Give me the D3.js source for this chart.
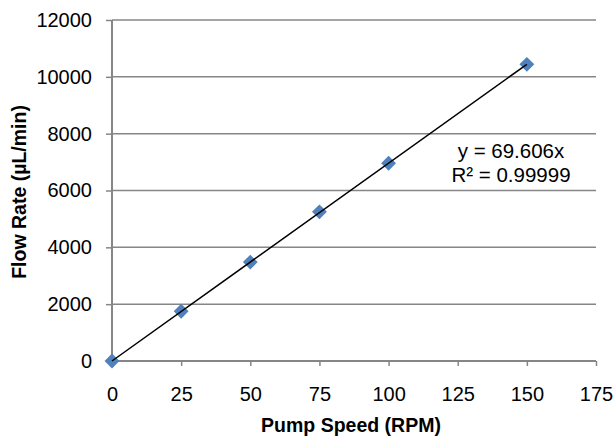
<!DOCTYPE html>
<html><head><meta charset="utf-8">
<script src="https://cdn.jsdelivr.net/npm/d3@7"></script>
<style>
html,body{margin:0;padding:0;background:#fff;}
svg{display:block;font-family:"Liberation Sans",Arial,sans-serif;}
</style></head>
<body>
<svg id="chart" width="615" height="438"></svg>
<script>
const speeds = [0, 25, 50, 75, 100, 150];
const flowRates = [0, 1750, 3480, 5250, 6960, 10440];
const xTicks = [0, 25, 50, 75, 100, 125, 150, 175];
const yTicks = [0, 2000, 4000, 6000, 8000, 10000, 12000];
const slope = 69.606;
const trendLabel = ["y = 69.606x", "R\u00B2 = 0.99999"];
const xTitle = "Pump Speed (RPM)";
const yTitle = "Flow Rate (\u00B5L/min)";

const svg = d3.select("#chart");
const m = {left: 112, right: 596, top: 20, bottom: 361};
const x = d3.scaleLinear().domain([0, 175]).range([m.left, m.right]);
const y = d3.scaleLinear().domain([0, 12000]).range([m.bottom, m.top]);
const gray = "#868686";
const FONT = "Liberation Sans, Arial, sans-serif";

// gridlines
svg.append("g").selectAll("line").data(yTicks.filter(d => d > 0)).join("line")
  .attr("x1", m.left).attr("x2", m.right)
  .attr("y1", d => y(d)).attr("y2", d => y(d))
  .attr("stroke", gray).attr("stroke-width", 1.5);

// y axis
const yAxis = svg.append("g").attr("transform", `translate(${m.left},0)`)
  .call(d3.axisLeft(y).tickValues(yTicks).tickSize(6).tickPadding(14).tickFormat(d3.format("d")));
yAxis.select(".domain").remove();
yAxis.selectAll(".tick line").attr("stroke", gray).attr("stroke-width", 1.5);
yAxis.selectAll("text").attr("font-size", 20).attr("fill", "#000").attr("font-family", FONT);
svg.append("line").attr("x1", m.left).attr("x2", m.left).attr("y1", m.top).attr("y2", m.bottom)
  .attr("stroke", gray).attr("stroke-width", 2);

// x axis
const xAxis = svg.append("g").attr("transform", `translate(0,${m.bottom})`)
  .call(d3.axisBottom(x).tickValues(xTicks).tickSize(5).tickPadding(21).tickFormat(d3.format("d")));
xAxis.select(".domain").attr("stroke", gray).attr("stroke-width", 2).attr("d", `M${m.left},0H${m.right}`);
xAxis.selectAll(".tick line").attr("stroke", gray).attr("stroke-width", 1.5);
xAxis.selectAll("text").attr("font-size", 20).attr("fill", "#000").attr("font-family", FONT);

// points
const diamond = d3.symbol().type(d3.symbolSquare).size(110);
svg.append("g").selectAll("path").data(speeds.map((s, i) => [s, flowRates[i]])).join("path")
  .attr("d", diamond)
  .attr("transform", d => `translate(${x(d[0])},${y(d[1])}) rotate(45)`)
  .attr("fill", "#4F81BD");

// trendline
svg.append("line")
  .attr("x1", x(0)).attr("y1", y(0))
  .attr("x2", x(150)).attr("y2", y(slope * 150))
  .attr("stroke", "#000").attr("stroke-width", 1.5);

// trend label
svg.append("text").attr("x", 511).attr("y", 158).attr("text-anchor", "middle")
  .attr("font-size", 20.5).text(trendLabel[0]);
svg.append("text").attr("x", 511).attr("y", 182).attr("text-anchor", "middle")
  .attr("font-size", 20.5).text(trendLabel[1]);

// titles
svg.append("text").attr("x", 351).attr("y", 432).attr("text-anchor", "middle")
  .attr("font-size", 19.5).attr("font-weight", "bold").text(xTitle);
svg.append("text").attr("transform", `translate(26,192) rotate(-90)`)
  .attr("text-anchor", "middle").attr("font-size", 19.5).attr("font-weight", "bold").text(yTitle);
</script>
</body></html>
